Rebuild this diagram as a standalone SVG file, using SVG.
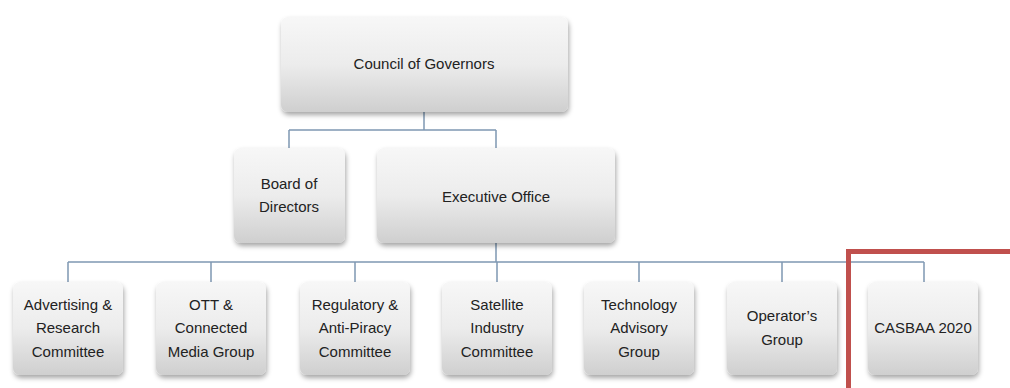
<svg xmlns="http://www.w3.org/2000/svg" width="1010" height="388" viewBox="0 0 1010 388">
<defs>
<linearGradient id="g" x1="0" y1="0" x2="0" y2="1">
<stop offset="0" stop-color="#f7f7f7"/>
<stop offset="0.5" stop-color="#ececec"/>
<stop offset="1" stop-color="#cfcfcf"/>
</linearGradient>
<filter id="sh" x="-10%" y="-10%" width="125%" height="130%">
<feDropShadow dx="1" dy="3" stdDeviation="2.5" flood-color="#000" flood-opacity="0.35"/>
</filter>
</defs>
<style>
.box{fill:url(#g);filter:url(#sh);}
.t{font-family:"Liberation Sans",Arial,sans-serif;font-size:15px;fill:#222;text-anchor:middle;dominant-baseline:central;}
.c{fill:none;stroke:#7f98b3;stroke-width:1.5;}
</style>
<rect width="1010" height="388" fill="#fff"/>
<g id="connectors" class="c">
<path d="M424 112V130M289 130H496M289 130V148M496 130V148"/>
<path d="M496 243V262M68 262H924M68 262V282M211 262V282M355 262V282M497 262V282M639 262V282M782 262V282M924 262V282"/>
</g>
<g id="council"><rect class="box" x="281" y="17" width="287" height="95" rx="7"/><text class="t" x="424" y="63">Council of Governors</text></g>
<g id="board"><rect class="box" x="234" y="148" width="111" height="95" rx="7"/><text class="t" x="289" y="183">Board of</text><text class="t" x="289" y="206">Directors</text></g>
<g id="exec"><rect class="box" x="377" y="148" width="238" height="95" rx="7"/><text class="t" x="496" y="196">Executive Office</text></g>
<g id="advertising"><rect class="box" x="13" y="282" width="110" height="93" rx="7"/><text class="t" x="68" y="304">Advertising &amp;</text><text class="t" x="68" y="327">Research</text><text class="t" x="68" y="351">Committee</text></g>
<g id="ott"><rect class="box" x="156" y="282" width="110" height="93" rx="7"/><text class="t" x="211" y="304">OTT &amp;</text><text class="t" x="211" y="327">Connected</text><text class="t" x="211" y="351">Media Group</text></g>
<g id="regulatory"><rect class="box" x="300" y="282" width="110" height="93" rx="7"/><text class="t" x="355" y="304">Regulatory &amp;</text><text class="t" x="355" y="327">Anti-Piracy</text><text class="t" x="355" y="351">Committee</text></g>
<g id="satellite"><rect class="box" x="442" y="282" width="110" height="93" rx="7"/><text class="t" x="497" y="304">Satellite</text><text class="t" x="497" y="327">Industry</text><text class="t" x="497" y="351">Committee</text></g>
<g id="technology"><rect class="box" x="584" y="282" width="110" height="93" rx="7"/><text class="t" x="639" y="304">Technology</text><text class="t" x="639" y="327">Advisory</text><text class="t" x="639" y="351">Group</text></g>
<g id="operators"><rect class="box" x="727" y="282" width="110" height="93" rx="7"/><text class="t" x="782" y="315">Operator’s</text><text class="t" x="782" y="339">Group</text></g>
<g id="casbaa"><rect class="box" x="868" y="282" width="110" height="93" rx="7"/><text class="t" x="923" y="327">CASBAA 2020</text></g>
<path id="highlight" d="M848.5 388V251.5H1010" fill="none" stroke="#c0504d" stroke-width="5"/>
</svg>
